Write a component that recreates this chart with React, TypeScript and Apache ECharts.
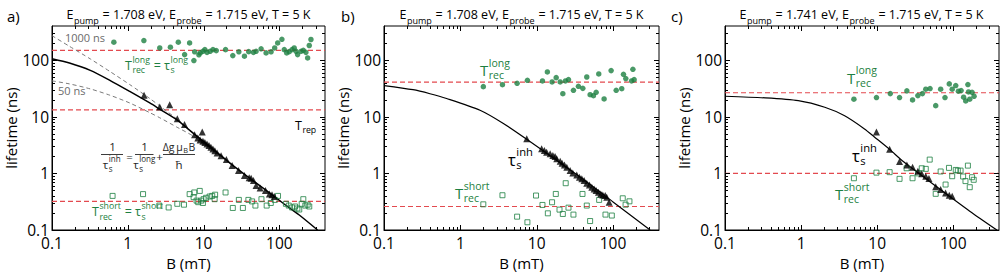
import React, { useEffect, useRef } from 'react';
import * as echarts from 'echarts';

const FONT = '"Open Sans", "Noto Sans", sans-serif';
const GREEN = '#1d7f41';
const RED = '#e34a4f';
const GRAY = '#6b6b6b';
const INK = '#000';

// Axis extents (both axes logarithmic)
const B_MIN = 0.1;
const B_MAX = 400;
const TAU_MIN = 0.1;
const TAU_MAX = 400;
const DECADE_LABELS = ['0.1', '1', '10', '100'];
const MAJOR_TICKS = [1, 10, 100];
const MINOR_TICKS = [0.2, 0.3, 0.4, 0.5, 0.6, 0.7, 0.8, 0.9, 2, 3, 4, 5, 6, 7, 8, 9, 20, 30, 40, 50, 60, 70, 80, 90, 200, 300];

type Pt = [number, number];

// ---------- panel a: E_pump = 1.708 eV ----------
const aLong: Pt[] = [
  [0.655, 207], [1.63, 221], [2.64, 164], [3.65, 169], [4.64, 207], [5.62, 125], [6.54, 201], [7.45, 98],
  [7.62, 140], [8.67, 124], [9.04, 134], [9.8, 143], [10.4, 153], [11.1, 137], [12.2, 143], [13.3, 153],
  [14.7, 147], [19.5, 153], [24.3, 120], [29.2, 140], [34.6, 117], [39.4, 141], [45.5, 137], [49.3, 143],
  [57.4, 158], [66.8, 134], [77.8, 140], [86.7, 164], [95, 201], [108, 233], [116, 153], [125, 134],
  [135, 141], [147, 153], [157, 164], [166, 143], [174, 125], [193, 143], [207, 149], [224, 137],
  [236, 109], [248, 181], [261, 231],
];
const aShort: Pt[] = [
  [0.63, 0.40], [1.59, 0.43], [2.61, 0.27], [3.46, 0.25], [4.5, 0.29], [5.51, 0.28], [6.55, 0.43], [7.54, 0.46],
  [7.38, 0.38], [8.08, 0.33], [8.5, 0.31], [8.9, 0.49], [9.3, 0.33], [9.8, 0.30], [10, 0.35], [10.8, 0.37],
  [12, 0.39], [13, 0.40], [14.2, 0.42], [14, 0.35], [19.5, 0.46], [24.3, 0.245], [29.2, 0.34], [33, 0.245],
  [39, 0.34], [43.7, 0.32], [48.3, 0.27], [58, 0.35], [68, 0.27], [77, 0.30], [87, 0.34], [96, 0.40],
  [122, 0.29], [133, 0.27], [147, 0.25], [161, 0.26], [173, 0.24], [183, 0.23], [197, 0.29], [207, 0.35],
  [220, 0.27], [236, 0.28], [248, 0.26],
];
const aInh: Pt[] = [
  [1.64, 23.9], [2.64, 14.8], [3.57, 16.3], [4.5, 9.2], [5.6, 7.3], [7.6, 4.8], [8.4, 4.2], [9.0, 3.9],
  [9.6, 5.4], [9.8, 3.7], [10.4, 3.5], [11.1, 3.3], [11.8, 3.1], [12.5, 2.9], [13.3, 2.7], [14.1, 2.5],
  [15.1, 2.3], [17, 2.05], [20, 1.75], [23.8, 1.38], [28.9, 1.12], [34.6, 0.92], [40, 0.84], [42.4, 0.82],
  [45.5, 0.75], [49.3, 0.61], [55.7, 0.55], [65.5, 0.50], [73.8, 0.43], [80, 0.42], [85.9, 0.39],
];
const aFit: Pt[] = [
  [0.1, 106], [0.17, 89], [0.32, 66], [0.58, 44], [1.06, 28], [1.95, 17.5], [2.64, 13.6], [4.4, 8.9],
  [7.2, 5.2], [14.7, 2.4], [24.3, 1.38], [40, 0.83], [67, 0.5], [111, 0.3], [183, 0.184], [319, 0.1],
];
const aFit1000: Pt[] = [
  [0.1, 270], [0.17, 175], [0.32, 105], [0.58, 63], [1.06, 37], [1.95, 21], [2.64, 15.5], [4.4, 9.2],
  [7.2, 5.25], [14.7, 2.42], [24.3, 1.39],
];
const aFit50: Pt[] = [
  [0.1, 43], [0.17, 38], [0.32, 31], [0.58, 24], [1.06, 17.5], [1.95, 11.8], [2.64, 9.6], [4.4, 6.6],
  [7.2, 4.6], [14.7, 2.36], [24.3, 1.37],
];
const A_LONG_LEVEL = 148;
const A_SHORT_LEVEL = 0.32;
const A_REP_LEVEL = 13.2;

// ---------- panel b: E_pump = 1.708 eV ----------
const bLong: Pt[] = [
  [2.0, 34], [3.56, 36.8], [5.54, 38.9], [7.56, 44], [11.9, 42.8], [13.8, 61.8], [15.9, 41.1], [18, 49],
  [20.3, 41.1], [22, 25.5], [23.8, 42.8], [26.1, 45.2], [30.3, 29.3], [35.2, 34.4], [40.2, 31.7], [45.3, 50.3],
  [50.1, 24.5], [55.4, 23.5], [60.1, 27], [65, 56.9], [76.4, 20.6], [94.4, 65.2], [110, 29.3], [130, 31.3],
  [137, 56.1], [147, 47.1], [175, 42.8], [182, 68.9], [189, 45.2],
];
const bShort: Pt[] = [
  [2.0, 0.284], [3.56, 0.411], [5.54, 0.172], [7.56, 0.137], [9.8, 0.406], [11.9, 0.277], [14, 0.197],
  [15.9, 0.309], [17.8, 0.433], [19.9, 0.229], [22, 0.192], [24, 0.67], [26.1, 0.248], [30.3, 0.187],
  [39.8, 0.433], [45.3, 0.27], [50.1, 0.144], [65.8, 0.34], [79.6, 0.187], [96.4, 0.18], [134, 0.363],
  [146, 0.28], [164, 0.321],
];
const bInh: Pt[] = [
  [7.41, 4.08], [11.6, 2.72], [12.6, 2.54], [13.5, 2.37], [15, 2.21], [16.3, 2.07], [17.4, 1.99], [18.3, 1.81],
  [20.3, 1.64], [21.5, 1.51], [23.1, 1.41], [24.8, 1.28], [27.4, 1.12], [29.7, 1.02], [33.5, 0.94], [36.3, 0.855],
  [39, 0.80], [41.8, 0.746], [45.3, 0.67], [49.1, 0.625], [52.7, 0.569], [56.5, 0.532], [60.1, 0.497],
  [64.4, 0.464], [69.2, 0.434], [73.5, 0.416], [78.9, 0.405], [82.8, 0.378], [88.9, 0.309],
];
const bFit: Pt[] = [
  [0.1, 35.5], [0.24, 30], [0.4, 25.5], [0.66, 21], [1.81, 13.0], [3.66, 7.6], [7.4, 4.0], [37, 0.86],
  [101, 0.31], [306, 0.1],
];
const B_LONG_LEVEL = 41;
const B_SHORT_LEVEL = 0.26;

// ---------- panel c: E_pump = 1.741 eV ----------
const cLong: Pt[] = [
  [4.95, 20.4], [9.8, 21.8], [14.9, 25.6], [19.7, 21.8], [24.6, 28.6], [29.2, 19.8], [34.3, 23.6], [39.4, 25.6],
  [43.6, 30.6], [49.6, 31.4], [58.9, 15.7], [68.4, 30.6], [78, 21.8], [88.8, 38], [97, 30.6], [108, 35.5],
  [117, 28.2], [127, 29], [137, 22.1], [146, 19], [156, 37], [159, 27.4], [165, 20.4], [177, 27], [188, 23],
];
const cShort: Pt[] = [
  [4.95, 0.82], [9.8, 1.03], [14.6, 1.05], [19.7, 0.80], [24.4, 1.23], [29.2, 0.82], [34.6, 1.0], [38.6, 1.23],
  [43.6, 1.2], [49.1, 1.75], [58.9, 0.435], [68.4, 1.08], [79.4, 0.635], [88, 1.25], [97, 0.89], [108, 1.15],
  [115, 1.12], [125, 1.12], [135, 0.88], [145, 0.73], [156, 1.37], [165, 0.57], [177, 0.855], [186, 0.77],
];
const cInh: Pt[] = [
  [9.8, 5.4], [14.6, 2.67], [19.7, 1.62], [24.6, 1.41], [29.2, 1.28], [34.3, 1.09], [38.6, 0.98], [43.6, 0.89],
  [48, 0.81], [58.9, 0.58], [68.4, 0.52], [79.4, 0.45], [88.8, 0.41], [97, 0.395],
];
const cFit: Pt[] = [
  [0.1, 23], [0.34, 21.5], [0.92, 19.2], [2.05, 14.7], [3.74, 10.4], [6.82, 6.1], [9.2, 4.4], [14.6, 2.65],
  [22.3, 1.6], [60.7, 0.58], [165, 0.215], [375, 0.1],
];
const C_LONG_LEVEL = 26.5;
const C_SHORT_LEVEL = 1.0;

interface Panel {
  long: Pt[];
  short: Pt[];
  inh: Pt[];
  fit: Pt[];
  fitWidth: number;
  guides: Pt[][];
  levels: number[];
}

const PANELS: Panel[] = [
  { long: aLong, short: aShort, inh: aInh, fit: aFit, fitWidth: 1.5, guides: [aFit1000, aFit50], levels: [A_LONG_LEVEL, A_SHORT_LEVEL, A_REP_LEVEL] },
  { long: bLong, short: bShort, inh: bInh, fit: bFit, fitWidth: 1.2, guides: [], levels: [B_LONG_LEVEL, B_SHORT_LEVEL] },
  { long: cLong, short: cShort, inh: cInh, fit: cFit, fitWidth: 1.2, guides: [], levels: [C_LONG_LEVEL, C_SHORT_LEVEL] },
];

const GRIDS = [
  { left: 52, top: 26, width: 273, height: 204 },
  { left: 384, top: 26, width: 275, height: 204 },
  { left: 725, top: 26, width: 274, height: 204 },
];

// ---------- text helpers ----------
let measureCtx: CanvasRenderingContext2D | null = null;
function textWidth(s: string, size: number): number {
  if (!measureCtx) measureCtx = document.createElement('canvas').getContext('2d');
  if (!measureCtx) return s.length * size * 0.55;
  measureCtx.font = `${size}px ${FONT}`;
  return measureCtx.measureText(s).width;
}

function txt(x: number, y: number, text: string, size: number, color: string, align = 'left') {
  return {
    type: 'text',
    x,
    y,
    silent: true,
    z: 20,
    style: { text, fill: color, font: `${size}px ${FONT}`, textAlign: align, textVerticalAlign: 'middle' },
  };
}

type Piece = string | { sup?: string; sub?: string };
interface MathOpts {
  x: number;
  y: number;
  size: number;
  color: string;
  center?: boolean;
  scale?: number;
  supDy?: number;
  subDy?: number;
}

// lays out a run of text with stacked super/subscripts
function mathText(pieces: Piece[], o: MathOpts): any[] {
  const s2 = o.size * (o.scale ?? 0.7);
  const widths = pieces.map((p) =>
    typeof p === 'string'
      ? textWidth(p, o.size)
      : Math.max(p.sup ? textWidth(p.sup, s2) : 0, p.sub ? textWidth(p.sub, s2) : 0) + 1
  );
  const total = widths.reduce((a, b) => a + b, 0);
  let cx = o.center ? o.x - total / 2 : o.x;
  const out: any[] = [];
  pieces.forEach((p, i) => {
    if (typeof p === 'string') {
      out.push(txt(cx, o.y, p, o.size, o.color));
    } else {
      if (p.sup) out.push(txt(cx + 0.5, o.y + (o.supDy ?? -0.42 * o.size), p.sup, s2, o.color));
      if (p.sub) out.push(txt(cx + 0.5, o.y + (o.subDy ?? 0.32 * o.size), p.sub, s2, o.color));
    }
    cx += widths[i];
  });
  return out;
}

function bar(x1: number, x2: number, y: number, color: string) {
  return { type: 'line', silent: true, z: 20, shape: { x1, y1: y, x2, y2: y }, style: { stroke: color, lineWidth: 0.9 } };
}

function buildGraphics(): any[] {
  const els: any[] = [];
  const letters = [
    ['a)', 7],
    ['b)', 341],
    ['c)', 671],
  ] as const;
  letters.forEach(([t, x]) => els.push(txt(x, 16, t, 15, INK)));

  const titles: [string, number][] = [
    ['1.708', 188.5],
    ['1.708', 521.5],
    ['1.741', 861.5],
  ];
  titles.forEach(([e, x]) =>
    els.push(
      ...mathText(['E', { sub: 'pump' }, ` = ${e} eV, E`, { sub: 'probe' }, ' = 1.715 eV, T = 5 K'], {
        x,
        y: 14.5,
        size: 12.5,
        color: INK,
        center: true,
        scale: 0.72,
        subDy: 6,
      })
    )
  );

  // panel a labels
  els.push(...mathText(['T', { sup: 'long', sub: 'rec' }, ' = ', 'τ', { sup: 'long', sub: 's' }], { x: 125, y: 65, size: 12.5, color: GREEN, supDy: -5.5, subDy: 5 }));
  els.push(...mathText(['T', { sup: 'short', sub: 'rec' }, ' = ', 'τ', { sup: 'short', sub: 's' }], { x: 92, y: 211.5, size: 12.5, color: GREEN, supDy: -5.5, subDy: 5 }));
  els.push(...mathText(['T', { sub: 'rep' }], { x: 295, y: 125.5, size: 12.5, color: INK, subDy: 4.5 }));
  els.push(txt(65, 37, '1000 ns', 11, GRAY));
  els.push(txt(58, 90.5, '50 ns', 11, GRAY));

  // formula: 1/τ_s^inh = 1/τ_s^long + Δg μ_B B / ħ
  const F = '#262626';
  const fs = 11.5;
  els.push(...mathText(['1'], { x: 112.5, y: 146.5, size: fs, color: F, center: true }));
  els.push(bar(101, 123, 154.5, F));
  els.push(...mathText(['τ', { sup: 'inh', sub: 's' }], { x: 112, y: 164, size: fs, color: F, center: true, supDy: -5.5, subDy: 4.5 }));
  els.push(txt(129.5, 156, '=', fs, F, 'center'));
  els.push(...mathText(['1'], { x: 144.5, y: 146.5, size: fs, color: F, center: true }));
  els.push(bar(135, 153.5, 154.5, F));
  els.push(...mathText(['τ', { sup: 'long', sub: 's' }], { x: 144.5, y: 164, size: fs, color: F, center: true, supDy: -5.5, subDy: 4.5 }));
  els.push(txt(159.5, 156, '+', fs, F, 'center'));
  els.push(...mathText(['Δg\u2009μ', { sub: 'B' }, 'B'], { x: 179, y: 146.5, size: 10.5, color: F, center: true, subDy: 3 }));
  els.push(bar(163, 195, 154.5, F));
  els.push(txt(179, 164, 'ħ', fs, F, 'center'));

  // panel b labels
  els.push(...mathText(['T', { sup: 'long', sub: 'rec' }], { x: 480, y: 70, size: 15, color: GREEN, supDy: -7.5, subDy: 5 }));
  els.push(...mathText(['τ', { sup: 'inh', sub: 's' }], { x: 508, y: 159, size: 16.5, color: INK, scale: 0.68, supDy: -8, subDy: 5 }));
  els.push(...mathText(['T', { sup: 'short', sub: 'rec' }], { x: 455, y: 193, size: 15, color: GREEN, supDy: -7.5, subDy: 5 }));

  // panel c labels
  els.push(...mathText(['T', { sup: 'long', sub: 'rec' }], { x: 847, y: 77.5, size: 15, color: GREEN, supDy: -7.5, subDy: 5 }));
  els.push(...mathText(['τ', { sup: 'inh', sub: 's' }], { x: 852, y: 155, size: 16.5, color: INK, scale: 0.68, supDy: -8, subDy: 5 }));
  els.push(...mathText(['T', { sup: 'short', sub: 'rec' }], { x: 835, y: 194, size: 15, color: GREEN, supDy: -7.5, subDy: 5 }));
  return els;
}

// ---------- axes & series ----------
function decadeLabel(v: number): string {
  const l = Math.log10(v);
  if (Math.abs(l - Math.round(l)) > 1e-6) return '';
  return DECADE_LABELS[Math.round(l) + 1] ?? '';
}

function xAxis(gi: number) {
  return {
    type: 'log',
    logBase: 10,
    gridIndex: gi,
    min: B_MIN,
    max: B_MAX,
    name: 'B (mT)',
    nameLocation: 'middle',
    nameGap: 24,
    nameTextStyle: { fontFamily: FONT, fontSize: 15, color: INK },
    axisLine: { show: true, onZero: false, lineStyle: { color: INK, width: 1 } },
    axisTick: { show: false },
    splitLine: { show: false },
    axisLabel: { formatter: decadeLabel, fontFamily: FONT, fontSize: 15.5, lineHeight: 13, color: INK, margin: 6, hideOverlap: false },
  };
}

function yAxis(gi: number) {
  return {
    type: 'log',
    logBase: 10,
    gridIndex: gi,
    min: TAU_MIN,
    max: TAU_MAX,
    name: 'lifetime (ns)',
    nameLocation: 'middle',
    nameRotate: 90,
    nameGap: 29,
    nameTextStyle: { fontFamily: FONT, fontSize: 15, color: INK },
    axisLine: { show: true, onZero: false, lineStyle: { color: INK, width: 1 } },
    axisTick: { show: false },
    splitLine: { show: false },
    axisLabel: { formatter: decadeLabel, fontFamily: FONT, fontSize: 15.5, lineHeight: 12, color: INK, margin: 3, hideOverlap: false },
  };
}

// inward ticks on all four sides of a frame
function tickSeries(gi: number) {
  return {
    type: 'custom',
    xAxisIndex: gi,
    yAxisIndex: gi,
    silent: true,
    clip: false,
    z: 5,
    data: [[1, 1]],
    renderItem: (params: any, api: any) => {
      const cs = params.coordSys;
      const left = cs.x;
      const right = cs.x + cs.width;
      const top = cs.y;
      const bottom = cs.y + cs.height;
      const kids: any[] = [];
      const seg = (x1: number, y1: number, x2: number, y2: number) =>
        kids.push({ type: 'line', shape: { x1, y1, x2, y2 }, style: { stroke: INK, lineWidth: 1 } });
      const mark = (v: number, len: number) => {
        const px = Math.round(api.coord([v, 1])[0]) + 0.5;
        seg(px, bottom, px, bottom - len);
        seg(px, top, px, top + len);
        const py = Math.round(api.coord([1, v])[1]) + 0.5;
        seg(left, py, left + len, py);
        seg(right, py, right - len, py);
      };
      MAJOR_TICKS.forEach((v) => mark(v, 5));
      MINOR_TICKS.forEach((v) => mark(v, 3));
      return { type: 'group', children: kids };
    },
  };
}

// horizontal reference level spanning the whole B range
function levelSeries(gi: number, v: number) {
  return {
    type: 'line',
    xAxisIndex: gi,
    yAxisIndex: gi,
    data: [[B_MIN, v], [B_MAX, v]],
    showSymbol: false,
    silent: true,
    lineStyle: { color: RED, width: 1.2, type: [5, 3] },
    z: 2,
  };
}

function curve(gi: number, data: Pt[], color: string, width: number, type: any) {
  return {
    type: 'line',
    xAxisIndex: gi,
    yAxisIndex: gi,
    data,
    showSymbol: false,
    smooth: 0.25,
    silent: true,
    lineStyle: { color, width, type },
    z: 3,
  };
}

function buildOption() {
  const series: any[] = [];
  PANELS.forEach((p, i) => {
    series.push(tickSeries(i));
    p.levels.forEach((v) => series.push(levelSeries(i, v)));
    p.guides.forEach((g) => series.push(curve(i, g, '#7a7a7a', 1, [4, 3])));
    series.push(curve(i, p.fit, INK, p.fitWidth, 'solid'));
    series.push({
      type: 'scatter',
      xAxisIndex: i,
      yAxisIndex: i,
      data: p.short,
      symbol: 'rect',
      symbolSize: 5,
      itemStyle: { color: 'rgba(255,255,255,0)', borderColor: GREEN, borderWidth: 1 },
      z: 4,
    });
    series.push({
      type: 'scatter',
      xAxisIndex: i,
      yAxisIndex: i,
      data: p.long,
      symbol: 'circle',
      symbolSize: 5.5,
      itemStyle: { color: GREEN },
      z: 4,
    });
    series.push({
      type: 'scatter',
      xAxisIndex: i,
      yAxisIndex: i,
      data: p.inh,
      symbol: 'triangle',
      symbolSize: 7,
      itemStyle: { color: INK },
      z: 4,
    });
  });

  return {
    animation: false,
    backgroundColor: '#fff',
    grid: GRIDS.map((g) => ({ ...g, show: true, borderColor: INK, borderWidth: 1, backgroundColor: 'transparent' })),
    xAxis: PANELS.map((_, i) => xAxis(i)),
    yAxis: PANELS.map((_, i) => yAxis(i)),
    series,
    graphic: { elements: buildGraphics() },
  };
}

export default function App() {
  const ref = useRef<HTMLDivElement>(null);
  useEffect(() => {
    if (!ref.current) return;
    const chart = echarts.init(ref.current, null, { renderer: 'svg' });
    chart.setOption(buildOption() as any);
    return () => chart.dispose();
  }, []);
  return <div ref={ref} style={{ position: 'fixed', left: 0, top: 0, width: 1004, height: 277, background: '#fff' }} />;
}
